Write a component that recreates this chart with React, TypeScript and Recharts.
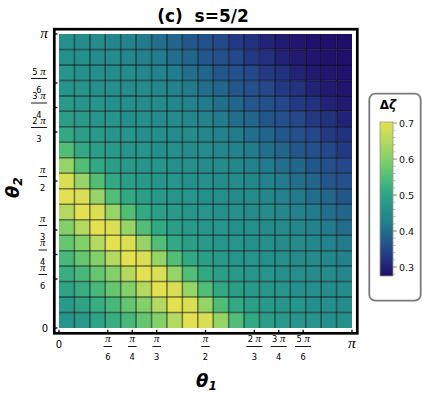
import React from 'react';
import {
    ScatterChart,
    Scatter,
    XAxis,
    YAxis,
    ReferenceArea,
    ReferenceLine,
} from 'recharts';

const PI = Math.PI;

// Δζ for each mesh cell.
// First row is the top of the plot (θ2 near π), first column is θ1 near 0.
const zetaRows: number[][] = [
    [0.46, 0.45, 0.45, 0.44, 0.43, 0.42, 0.4, 0.39, 0.37, 0.36, 0.35, 0.33, 0.32, 0.3, 0.29, 0.285, 0.28, 0.278, 0.275],
    [0.46, 0.46, 0.45, 0.45, 0.44, 0.43, 0.42, 0.4, 0.39, 0.37, 0.36, 0.35, 0.33, 0.32, 0.3, 0.29, 0.285, 0.28, 0.278],
    [0.47, 0.46, 0.46, 0.45, 0.45, 0.44, 0.43, 0.42, 0.4, 0.39, 0.37, 0.36, 0.35, 0.33, 0.32, 0.3, 0.29, 0.285, 0.28],
    [0.47, 0.47, 0.46, 0.46, 0.45, 0.45, 0.44, 0.43, 0.42, 0.4, 0.39, 0.37, 0.36, 0.35, 0.33, 0.32, 0.3, 0.29, 0.285],
    [0.48, 0.47, 0.47, 0.46, 0.46, 0.45, 0.45, 0.44, 0.43, 0.42, 0.4, 0.39, 0.37, 0.36, 0.35, 0.33, 0.32, 0.3, 0.29],
    [0.49, 0.48, 0.47, 0.47, 0.46, 0.46, 0.45, 0.45, 0.44, 0.43, 0.42, 0.4, 0.39, 0.37, 0.36, 0.35, 0.33, 0.32, 0.3],
    [0.51, 0.49, 0.48, 0.47, 0.47, 0.46, 0.46, 0.45, 0.45, 0.44, 0.43, 0.42, 0.4, 0.39, 0.37, 0.36, 0.35, 0.33, 0.32],
    [0.55, 0.51, 0.49, 0.48, 0.47, 0.47, 0.46, 0.46, 0.45, 0.45, 0.44, 0.43, 0.42, 0.4, 0.39, 0.37, 0.36, 0.35, 0.33],
    [0.62, 0.55, 0.51, 0.49, 0.48, 0.47, 0.47, 0.46, 0.46, 0.45, 0.45, 0.44, 0.43, 0.42, 0.4, 0.39, 0.37, 0.36, 0.35],
    [0.69, 0.62, 0.55, 0.51, 0.49, 0.48, 0.47, 0.47, 0.46, 0.46, 0.45, 0.45, 0.44, 0.43, 0.42, 0.4, 0.39, 0.37, 0.36],
    [0.7, 0.69, 0.62, 0.55, 0.51, 0.49, 0.48, 0.47, 0.47, 0.46, 0.46, 0.45, 0.45, 0.44, 0.43, 0.42, 0.4, 0.39, 0.37],
    [0.65, 0.7, 0.69, 0.62, 0.55, 0.51, 0.49, 0.48, 0.47, 0.47, 0.46, 0.46, 0.45, 0.45, 0.44, 0.43, 0.42, 0.4, 0.39],
    [0.6, 0.65, 0.7, 0.69, 0.62, 0.55, 0.51, 0.49, 0.48, 0.47, 0.47, 0.46, 0.46, 0.45, 0.45, 0.44, 0.43, 0.42, 0.4],
    [0.57, 0.6, 0.65, 0.7, 0.69, 0.62, 0.55, 0.51, 0.49, 0.48, 0.47, 0.47, 0.46, 0.46, 0.45, 0.45, 0.44, 0.43, 0.42],
    [0.54, 0.57, 0.6, 0.65, 0.7, 0.69, 0.62, 0.55, 0.51, 0.49, 0.48, 0.47, 0.47, 0.46, 0.46, 0.45, 0.45, 0.44, 0.43],
    [0.52, 0.54, 0.57, 0.6, 0.65, 0.7, 0.69, 0.62, 0.55, 0.51, 0.49, 0.48, 0.47, 0.47, 0.46, 0.46, 0.45, 0.45, 0.44],
    [0.5, 0.52, 0.54, 0.57, 0.6, 0.65, 0.7, 0.69, 0.62, 0.55, 0.51, 0.49, 0.48, 0.47, 0.47, 0.46, 0.46, 0.45, 0.45],
    [0.48, 0.5, 0.52, 0.54, 0.57, 0.6, 0.65, 0.7, 0.69, 0.62, 0.55, 0.51, 0.49, 0.48, 0.47, 0.47, 0.46, 0.46, 0.45],
    [0.47, 0.48, 0.5, 0.52, 0.54, 0.57, 0.6, 0.65, 0.7, 0.69, 0.62, 0.55, 0.51, 0.49, 0.48, 0.47, 0.47, 0.46, 0.46],
];

// frame ticks, same on both axes
const angleTicks = [0, PI / 6, PI / 4, PI / 3, PI / 2, (2 * PI) / 3, (3 * PI) / 4, (5 * PI) / 6, PI];
const angleTickLabels = ['0', 'π/6', 'π/4', 'π/3', 'π/2', '2 π/3', '3 π/4', '5 π/6', 'π'];

const legendTicks = [0.3, 0.4, 0.5, 0.6, 0.7];
const ZETA_MIN = 0.275;
const ZETA_MAX = 0.703;

// viridis-like scale as in the legend bar
const colorStops: [number, [number, number, number]][] = [
    [0, [32, 14, 106]],
    [0.1, [35, 48, 126]],
    [0.18, [36, 74, 139]],
    [0.28, [34, 106, 140]],
    [0.35, [35, 128, 140]],
    [0.45, [38, 148, 139]],
    [0.55, [50, 168, 132]],
    [0.62, [72, 184, 122]],
    [0.72, [115, 204, 108]],
    [0.85, [168, 216, 100]],
    [1, [230, 224, 80]],
];

const rgb = (c: number[]) => `rgb(${c.map(Math.round).join(',')})`;

const zetaColor = (v: number) => {
    const t = Math.min(1, Math.max(0, (v - ZETA_MIN) / (ZETA_MAX - ZETA_MIN)));
    for (let k = 1; k < colorStops.length; k++) {
        const [t1, c1] = colorStops[k];
        const [t0, c0] = colorStops[k - 1];
        if (t <= t1) {
            const u = (t - t0) / (t1 - t0);
            return rgb(c0.map((a, i) => a + (c1[i] - a) * u));
        }
    }
    return rgb(colorStops[colorStops.length - 1][1]);
};

const N = zetaRows.length;
const STEP = PI / N;

const cells = zetaRows.flatMap((row, r) =>
    row.map((v, i) => ({
        x: (i + 0.5) * STEP,
        y: (N - r - 0.5) * STEP,
        x1: i * STEP,
        x2: (i + 1) * STEP,
        y1: (N - r - 1) * STEP,
        y2: (N - r) * STEP,
        v,
    }))
);
const meshLines = Array.from({ length: N - 1 }, (_, k) => (k + 1) * STEP);

// layout
const W = 422;
const H = 395;
const PLOT = { left: 59, top: 34, right: 352, bottom: 328 };
const FONT = '"DejaVu Sans", sans-serif';
const PI_FONT = '"Liberation Serif", serif';

type MathTextProps = { s: string; x: number; y: number; size: number; anchor?: 'start' | 'middle' | 'end' };

const MathText = ({ s, x, y, size, anchor = 'middle' }: MathTextProps) => (
    <text x={x} y={y} textAnchor={anchor} fontFamily={FONT} fontSize={size} fill="#000">
        {s
            .split(/(π)/)
            .filter((p) => p !== '')
            .map((p, k) =>
                p === 'π' ? (
                    <tspan key={k} fontFamily={PI_FONT} fontStyle="italic" fontSize={size * 1.3}>
                        π
                    </tspan>
                ) : (
                    <tspan key={k}>{p}</tspan>
                )
            )}
    </text>
);

const barWidth = (num: string) => (num.length > 1 ? 16 : 8.5);

const XTick = (props: any) => {
    const { x, y, index } = props;
    const [num, den] = angleTickLabels[index].split('/');
    const w = barWidth(num);
    return (
        <g>
            <line x1={x} x2={x} y1={y + 1.8} y2={y + 5} stroke="#000" strokeWidth={1.3} />
            {den === undefined ? (
                <MathText s={num} x={x} y={y + 20} size={num === 'π' ? 12 : 10} />
            ) : (
                <>
                    <MathText s={num} x={x} y={y + 14} size={8.3} />
                    <line x1={x - w / 2} x2={x + w / 2} y1={y + 18.5} y2={y + 18.5} stroke="#000" strokeWidth={0.9} />
                    <MathText s={den} x={x} y={y + 32} size={8.3} />
                </>
            )}
        </g>
    );
};

const YTick = (props: any) => {
    const { x, y, index } = props;
    const [num, den] = angleTickLabels[index].split('/');
    const w = barWidth(num);
    const right = x - 12;
    const cx = right - w / 2;
    return (
        <g>
            <line x1={x - 4.7} x2={x - 1.5} y1={y} y2={y} stroke="#000" strokeWidth={1.3} />
            {den === undefined ? (
                <MathText s={num} x={right + 1} y={y + 3.5} size={num === 'π' ? 12 : 10} anchor="end" />
            ) : (
                <>
                    <MathText s={num} x={cx} y={y - 8.5} size={8.3} />
                    <line x1={cx - w / 2} x2={cx + w / 2} y1={y - 4.5} y2={y - 4.5} stroke="#000" strokeWidth={0.9} />
                    <MathText s={den} x={cx} y={y + 10} size={8.3} />
                </>
            )}
        </g>
    );
};

// colour bar legend on the right
const BAR = { x: 380, y: 122, w: 13, h: 154 };
const zetaToBarY = (v: number) => BAR.y + BAR.h - ((v - ZETA_MIN) / (ZETA_MAX - ZETA_MIN)) * BAR.h;
const minorTicks = Array.from({ length: 21 }, (_, k) => 0.28 + k * 0.02);

const ColorBar = () => (
    <g>
        <defs>
            <linearGradient id="zetaGrad" x1="0" y1="1" x2="0" y2="0">
                {colorStops.map(([t, c]) => (
                    <stop key={t} offset={t} stopColor={rgb(c)} />
                ))}
            </linearGradient>
        </defs>
        <rect x={369.3} y={93.7} width={51.4} height={207} rx={6} fill="#fff" stroke="#7a7a7a" strokeWidth={1.8} />
        <text x={388} y={109} textAnchor="middle" fontFamily={FONT} fontWeight="bold" fontSize={12}>
            Δ<tspan fontStyle="italic">ζ</tspan>
        </text>
        <rect x={BAR.x} y={BAR.y} width={BAR.w} height={BAR.h} fill="url(#zetaGrad)" stroke="#9a9a80" strokeWidth={0.8} />
        {minorTicks.map((v) => (
            <line
                key={v}
                x1={BAR.x + BAR.w}
                x2={BAR.x + BAR.w + 2.5}
                y1={zetaToBarY(v)}
                y2={zetaToBarY(v)}
                stroke="#aaa"
                strokeWidth={0.8}
            />
        ))}
        {legendTicks.map((v) => (
            <g key={v}>
                <line
                    x1={BAR.x + BAR.w}
                    x2={BAR.x + BAR.w + 4}
                    y1={zetaToBarY(v)}
                    y2={zetaToBarY(v)}
                    stroke="#888"
                    strokeWidth={0.9}
                />
                <text x={399} y={zetaToBarY(v) + 3.5} fontFamily={FONT} fontSize={9.5} fill="#111">
                    {v.toFixed(1)}
                </text>
            </g>
        ))}
    </g>
);

export default function App() {
    return (
        <div style={{ position: 'absolute', left: 0, top: 0, width: W, height: H, background: '#fff' }}>
            <ScatterChart
                width={W}
                height={H}
                margin={{ top: PLOT.top, right: W - PLOT.right, bottom: 0, left: 0 }}
            >
                <XAxis
                    type="number"
                    dataKey="x"
                    domain={[0, PI]}
                    ticks={angleTicks}
                    interval={0}
                    allowDataOverflow
                    height={H - PLOT.bottom}
                    axisLine={false}
                    tickLine={false}
                    tickSize={0}
                    tickMargin={0}
                    tick={XTick}
                />
                <YAxis
                    type="number"
                    dataKey="y"
                    domain={[0, PI]}
                    ticks={angleTicks}
                    interval={0}
                    allowDataOverflow
                    width={PLOT.left}
                    axisLine={false}
                    tickLine={false}
                    tickSize={0}
                    tickMargin={0}
                    tick={YTick}
                />
                {cells.map((c, k) => (
                    <ReferenceArea
                        key={k}
                        x1={c.x1}
                        x2={c.x2}
                        y1={c.y1}
                        y2={c.y2}
                        fill={zetaColor(c.v)}
                        fillOpacity={1}
                        stroke="none"
                    />
                ))}
                {meshLines.map((m) => (
                    <ReferenceLine key={'v' + m} x={m} stroke="#000" strokeOpacity={0.5} strokeWidth={1.5} />
                ))}
                {meshLines.map((m) => (
                    <ReferenceLine key={'h' + m} y={m} stroke="#000" strokeOpacity={0.5} strokeWidth={1.5} />
                ))}
                <Scatter data={cells} shape={() => <g />} isAnimationActive={false} />
            </ScatterChart>
            <svg
                width={W}
                height={H}
                style={{ position: 'absolute', left: 0, top: 0, pointerEvents: 'none' }}
            >
                <rect
                    x={PLOT.left - 4.7}
                    y={PLOT.top - 4.8}
                    width={PLOT.right - PLOT.left + 10}
                    height={PLOT.bottom - PLOT.top + 10.1}
                    fill="none"
                    stroke="#000"
                    strokeWidth={2.7}
                />
                <text x={203} y={22} textAnchor="middle" fontFamily={FONT} fontWeight="bold" fontSize={17}>
                    (c)&#160; s=5/2
                </text>
                <text x={196} y={387} fontFamily={FONT} fontWeight="bold" fontStyle="italic" fontSize={18}>
                    θ<tspan fontSize={12} dy={3}>1</tspan>
                </text>
                <text
                    transform="translate(19,198) rotate(-90)"
                    fontFamily={FONT}
                    fontWeight="bold"
                    fontStyle="italic"
                    fontSize={18}
                >
                    θ<tspan fontSize={12} dy={3}>2</tspan>
                </text>
                <ColorBar />
            </svg>
        </div>
    );
}
